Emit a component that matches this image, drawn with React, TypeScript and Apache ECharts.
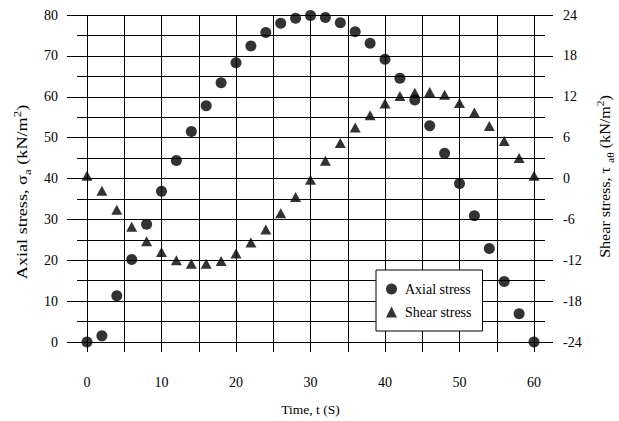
import React, { useEffect, useRef } from "react";
import * as echarts from "echarts";

const times = [0, 2, 4, 6, 8, 10, 12, 14, 16, 18, 20, 22, 24, 26, 28, 30, 32, 34, 36, 38, 40, 42, 44, 46, 48, 50, 52, 54, 56, 58, 60];
const axialStress = [0, 1.5, 11.3, 20.2, 28.8, 36.9, 44.4, 51.5, 57.8, 63.4, 68.3, 72.4, 75.7, 78.0, 79.2, 79.9, 79.4, 78.1, 75.9, 73.1, 69.2, 64.5, 59.2, 52.9, 46.2, 38.8, 30.9, 22.9, 14.8, 6.9, 0];
const shearStress = [0.4, -1.8, -4.6, -7.1, -9.2, -10.8, -12.0, -12.5, -12.5, -12.1, -11.0, -9.4, -7.5, -5.1, -2.7, -0.2, 2.6, 5.2, 7.5, 9.3, 11.0, 12.1, 12.6, 12.7, 12.3, 11.1, 9.7, 7.7, 5.5, 3.0, 0.4];

const FONT = "'Liberation Serif', 'Times New Roman', serif";

export default function App() {
  const ref = useRef<HTMLDivElement>(null);
  useEffect(() => {
    if (!ref.current) return;
    const chart = echarts.init(ref.current, undefined, { renderer: "svg" });
    const black = "#000";
    const label = { color: black, fontFamily: FONT, fontSize: 14 };
    const rich = {
      sub: { fontFamily: FONT, fontSize: 10, fill: black, color: black, verticalAlign: "bottom", lineHeight: 12 },
      sup: { fontFamily: FONT, fontSize: 10, fill: black, color: black, verticalAlign: "top", lineHeight: 10 },
    };
    const titleStyle = (text: string) => ({
      text,
      fontFamily: FONT,
      fontSize: 14,
      lineHeight: 20,
      fill: black,
      align: "center",
      verticalAlign: "middle",
      rich,
    });
    chart.setOption({
      animation: false,
      backgroundColor: "#fff",
      textStyle: { fontFamily: FONT },
      grid: [
        { left: 77, right: 74, top: 15, bottom: 79 },
        { left: 87, right: 85, top: 15, bottom: 68 },
        { left: 87, right: 85, top: 15, bottom: 79 },
      ],
      graphic: [
        {
          type: "text",
          x: 23,
          y: 192,
          rotation: Math.PI / 2,
          scaleX: 1.3,
          style: titleStyle("Axial stress, σ{sub|a} (kN/m{sup|2})"),
        },
        {
          type: "text",
          x: 605,
          y: 176.5,
          rotation: Math.PI / 2,
          scaleX: 1.15,
          style: titleStyle("Shear stress, τ {sub|aθ} (kN/m{sup|2})"),
        },
      ],
      legend: {
        data: ["Axial stress", "Shear stress"],
        orient: "vertical",
        left: 376,
        top: 270,
        padding: [11, 11, 11, 10],
        itemWidth: 11,
        itemHeight: 11,
        itemGap: 7,
        backgroundColor: "#fff",
        borderColor: black,
        borderWidth: 1,
        selectedMode: false,
        textStyle: { color: black, fontFamily: FONT, fontSize: 14, lineHeight: 16, padding: [0, 0, 0, 3] },
        z: 10,
      },
      xAxis: [
        { gridIndex: 0, type: "value", min: 0, max: 1, show: false },
        {
          gridIndex: 1,
          type: "value",
          min: 0,
          max: 60,
          interval: 10,
          axisLine: { show: false },
          axisTick: { show: true, length: 10, lineStyle: { color: black, width: 1 } },
          axisLabel: { ...label, margin: 23 },
          splitLine: { show: true, lineStyle: { color: black, width: 1 } },
          minorTick: { show: false, splitNumber: 2 },
          minorSplitLine: { show: true, lineStyle: { color: black, width: 1 } },
          name: "Time, t (S)",
          nameLocation: "middle",
          nameGap: 50,
          nameTextStyle: { color: black, fontFamily: FONT, fontSize: 13.5 },
        },
        { gridIndex: 2, type: "value", min: 0, max: 60, show: false },
      ],
      yAxis: [
        {
          gridIndex: 0,
          type: "value",
          position: "left",
          min: 0,
          max: 80,
          interval: 10,
          axisLine: { show: false },
          axisTick: { show: true, length: 10, lineStyle: { color: black, width: 1 } },
          axisLabel: { ...label, margin: 19 },
          splitLine: { show: true, lineStyle: { color: black, width: 1 } },
          minorTick: { show: false, splitNumber: 2 },
          minorSplitLine: { show: true, lineStyle: { color: black, width: 1 } },
        },
        {
          gridIndex: 0,
          type: "value",
          position: "right",
          min: -24,
          max: 24,
          interval: 6,
          axisLine: { show: false },
          axisTick: { show: true, length: 8, lineStyle: { color: black, width: 1 } },
          axisLabel: { ...label, margin: 18 },
          splitLine: { show: false },
        },
        { gridIndex: 1, type: "value", min: -2.7, max: 80, show: false },
        { gridIndex: 2, type: "value", min: 0, max: 80, show: false },
        { gridIndex: 2, type: "value", min: -24, max: 24, show: false },
      ],
      series: [
        {
          name: "Axial stress",
          type: "scatter",
          xAxisIndex: 2,
          yAxisIndex: 3,
          symbol: "circle",
          symbolSize: 11,
          clip: false,
          itemStyle: { color: black },
          data: times.map((t, i) => [t, axialStress[i]]),
          z: 5,
        },
        {
          name: "Shear stress",
          type: "scatter",
          xAxisIndex: 2,
          yAxisIndex: 4,
          symbol: "triangle",
          symbolSize: [11, 10],
          clip: false,
          itemStyle: { color: black },
          data: times.map((t, i) => [t, shearStress[i]]),
          z: 5,
        },
      ],
    });
    return () => chart.dispose();
  }, []);
  return <div ref={ref} style={{ position: "fixed", left: 0, top: 0, width: 619, height: 421 }} />;
}
